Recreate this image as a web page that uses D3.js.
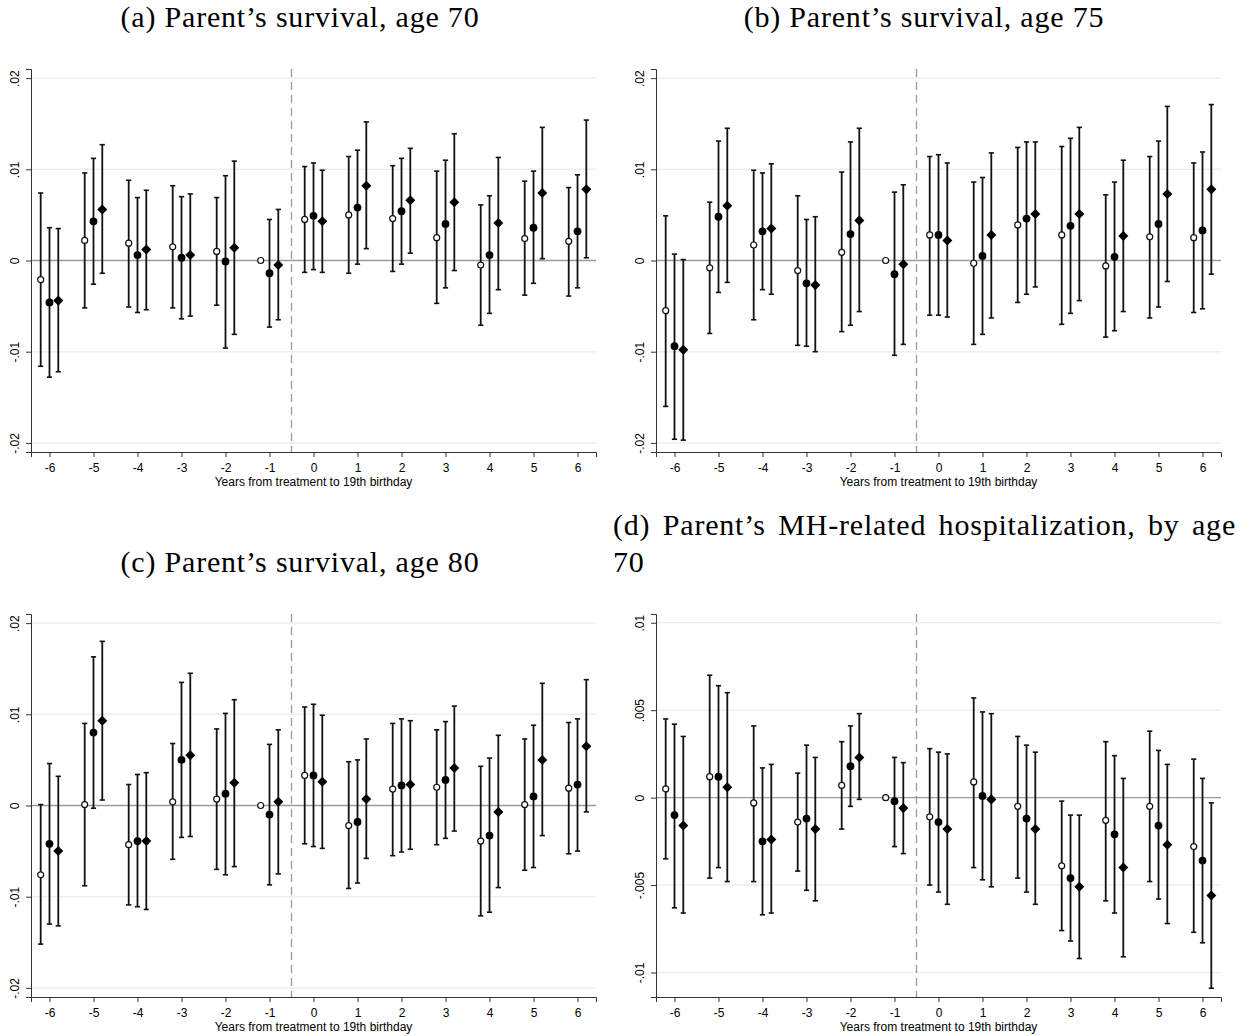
<!DOCTYPE html>
<html>
<head>
<meta charset="utf-8">
<script src="https://cdn.jsdelivr.net/npm/d3@7"></script>
<style>
  body { margin: 0; background: #fff; }
  svg { display: block; }
</style>
</head>
<body>
<svg id="chart"></svg>
<script>
// years relative to treatment, one group of three estimates per year
const years = [-6, -5, -4, -3, -2, -1, 0, 1, 2, 3, 4, 5, 6];
const xTickLabels = ["-6", "-5", "-4", "-3", "-2", "-1", "0", "1", "2", "3", "4", "5", "6"];

// each row: [estimate, ci low, ci high]; year -1 is the reference year
const surv70Hollow = [[-0.0021,-0.0116,0.0074],[0.0022,-0.0052,0.0096],[0.0019,-0.0051,0.0088],[0.0015,-0.0052,0.0082],[0.0010,-0.0049,0.0069],[0,null,null],
  [0.0045,-0.0013,0.0103],[0.0050,-0.0014,0.0114],[0.0046,-0.0012,0.0104],[0.0025,-0.0047,0.0098],[-0.0005,-0.0071,0.0061],[0.0024,-0.0038,0.0087],[0.0021,-0.0039,0.0080]];
const surv70Filled = [[-0.0046,-0.0128,0.0036],[0.0043,-0.0026,0.0112],[0.0006,-0.0057,0.0069],[0.0003,-0.0064,0.0070],[-0.0001,-0.0096,0.0093],[-0.0014,-0.0073,0.0045],
  [0.0049,-0.0010,0.0107],[0.0058,-0.0004,0.0121],[0.0054,-0.0004,0.0112],[0.0040,-0.0030,0.0110],[0.0006,-0.0058,0.0071],[0.0036,-0.0025,0.0098],[0.0032,-0.0030,0.0094]];
const surv70Diamond = [[-0.0044,-0.0122,0.0035],[0.0056,-0.0014,0.0127],[0.0012,-0.0054,0.0077],[0.0006,-0.0061,0.0073],[0.0014,-0.0081,0.0109],[-0.0005,-0.0065,0.0056],
  [0.0043,-0.0013,0.0099],[0.0082,0.0013,0.0152],[0.0066,0.0008,0.0123],[0.0064,-0.0011,0.0139],[0.0041,-0.0032,0.0113],[0.0074,0.0002,0.0146],[0.0078,0.0003,0.0154]];

const surv75Hollow = [[-0.0055,-0.0160,0.0049],[-0.0008,-0.0080,0.0064],[0.0017,-0.0065,0.0099],[-0.0011,-0.0093,0.0071],[0.0009,-0.0078,0.0097],[0,null,null],
  [0.0028,-0.0060,0.0114],[-0.0003,-0.0092,0.0086],[0.0039,-0.0046,0.0124],[0.0028,-0.0070,0.0125],[-0.0006,-0.0084,0.0072],[0.0026,-0.0063,0.0114],[0.0025,-0.0057,0.0107]];
const surv75Filled = [[-0.0094,-0.0196,0.0007],[0.0048,-0.0035,0.0131],[0.0032,-0.0032,0.0096],[-0.0025,-0.0094,0.0045],[0.0029,-0.0071,0.0130],[-0.0015,-0.0104,0.0075],
  [0.0028,-0.0060,0.0116],[0.0005,-0.0081,0.0091],[0.0046,-0.0037,0.0130],[0.0038,-0.0058,0.0134],[0.0004,-0.0077,0.0086],[0.0040,-0.0051,0.0131],[0.0033,-0.0053,0.0119]];
const surv75Diamond = [[-0.0098,-0.0197,0.0001],[0.0060,-0.0024,0.0145],[0.0035,-0.0037,0.0106],[-0.0027,-0.0100,0.0048],[0.0044,-0.0056,0.0145],[-0.0004,-0.0092,0.0083],
  [0.0022,-0.0062,0.0107],[0.0028,-0.0063,0.0118],[0.0051,-0.0029,0.0130],[0.0051,-0.0044,0.0146],[0.0027,-0.0056,0.0110],[0.0073,-0.0023,0.0169],[0.0078,-0.0015,0.0171]];

const surv80Hollow = [[-0.0076,-0.0152,0.0001],[0.0001,-0.0088,0.0090],[-0.0043,-0.0109,0.0023],[0.0004,-0.0059,0.0068],[0.0007,-0.0070,0.0084],[0,null,null],
  [0.0033,-0.0042,0.0108],[-0.0022,-0.0091,0.0048],[0.0018,-0.0055,0.0090],[0.0020,-0.0043,0.0083],[-0.0039,-0.0121,0.0043],[0.0001,-0.0071,0.0073],[0.0019,-0.0053,0.0091]];
const surv80Filled = [[-0.0042,-0.0130,0.0046],[0.0080,-0.0003,0.0163],[-0.0039,-0.0111,0.0034],[0.0050,-0.0035,0.0135],[0.0013,-0.0076,0.0101],[-0.0010,-0.0087,0.0067],
  [0.0033,-0.0045,0.0111],[-0.0018,-0.0085,0.0050],[0.0022,-0.0051,0.0095],[0.0028,-0.0036,0.0092],[-0.0033,-0.0117,0.0052],[0.0010,-0.0068,0.0088],[0.0023,-0.0050,0.0095]];
const surv80Diamond = [[-0.0050,-0.0132,0.0032],[0.0093,0.0006,0.0180],[-0.0039,-0.0114,0.0036],[0.0055,-0.0034,0.0145],[0.0025,-0.0067,0.0116],[0.0004,-0.0075,0.0083],
  [0.0026,-0.0047,0.0099],[0.0007,-0.0058,0.0073],[0.0023,-0.0048,0.0093],[0.0041,-0.0028,0.0109],[-0.0007,-0.0090,0.0077],[0.0050,-0.0033,0.0134],[0.0065,-0.0007,0.0138]];

const mhHollow = [[0.0005,-0.0035,0.0045],[0.0012,-0.0046,0.0070],[-0.0003,-0.0048,0.0041],[-0.0014,-0.0042,0.0014],[0.0007,-0.0018,0.0032],[0,null,null],
  [-0.0011,-0.0050,0.0028],[0.0009,-0.0040,0.0057],[-0.0005,-0.0046,0.0035],[-0.0039,-0.0076,-0.0002],[-0.0013,-0.0059,0.0032],[-0.0005,-0.0048,0.0038],[-0.0028,-0.0077,0.0022]];
const mhFilled = [[-0.0010,-0.0063,0.0042],[0.0012,-0.0040,0.0064],[-0.0025,-0.0067,0.0017],[-0.0012,-0.0053,0.0030],[0.0018,-0.0005,0.0041],[-0.0002,-0.0028,0.0023],
  [-0.0014,-0.0054,0.0026],[0.0001,-0.0047,0.0049],[-0.0012,-0.0054,0.0030],[-0.0046,-0.0082,-0.0010],[-0.0021,-0.0066,0.0024],[-0.0016,-0.0058,0.0027],[-0.0036,-0.0083,0.0011]];
const mhDiamond = [[-0.0016,-0.0066,0.0035],[0.0006,-0.0048,0.0060],[-0.0024,-0.0066,0.0019],[-0.0018,-0.0059,0.0023],[0.0023,-0.0001,0.0048],[-0.0006,-0.0032,0.0020],
  [-0.0018,-0.0061,0.0025],[-0.0001,-0.0051,0.0048],[-0.0018,-0.0061,0.0026],[-0.0051,-0.0092,-0.0010],[-0.0040,-0.0091,0.0011],[-0.0027,-0.0072,0.0019],[-0.0056,-0.0109,-0.0003]];

const survTicks = [-0.02, -0.01, 0, 0.01, 0.02];
const survTickLabels = ["-.02", "-.01", "0", ".01", ".02"];
const mhTicks = [-0.01, -0.005, 0, 0.005, 0.01];
const mhTickLabels = ["-.01", "-.005", "0", ".005", ".01"];

const xTitle = "Years from treatment to 19th birthday";
const serif = "'Liberation Serif', 'DejaVu Serif', serif";
const sans = "'Liberation Sans', Arial, sans-serif";

class CoefPlot {

  constructor(_config, _series) {
    this.config = {
      parent: _config.parent,
      left: _config.left,
      top: _config.top,
      width: _config.width || 565,
      height: _config.height || 383,
      yDomain: _config.yDomain,
      yTicks: _config.yTicks,
      yTickLabels: _config.yTickLabels
    };
    this.series = _series;
    this.initVis();
  }

  initVis() {
    let vis = this;

    vis.g = vis.config.parent.append('g')
      .attr('transform', `translate(${vis.config.left},${vis.config.top})`);

    vis.xScale = d3.scaleLinear()
      .domain([-6.42, 6.42])
      .range([0, vis.config.width]);

    vis.yScale = d3.scaleLinear()
      .domain(vis.config.yDomain)
      .range([vis.config.height, 0]);

    // light gridlines, zero line darker
    vis.g.selectAll('.grid')
      .data(vis.config.yTicks.filter(d => d !== 0))
      .enter().append('line')
      .attr('x1', 0).attr('x2', vis.config.width)
      .attr('y1', d => vis.yScale(d)).attr('y2', d => vis.yScale(d))
      .attr('stroke', '#e8f0f1').attr('stroke-width', 1.5);

    vis.g.append('line')
      .attr('x1', 0).attr('x2', vis.config.width)
      .attr('y1', vis.yScale(0)).attr('y2', vis.yScale(0))
      .attr('stroke', '#9a9a9a').attr('stroke-width', 1.3);

    // treatment cutoff between -1 and 0
    vis.g.append('line')
      .attr('x1', vis.xScale(-0.5)).attr('x2', vis.xScale(-0.5))
      .attr('y1', 0).attr('y2', vis.config.height)
      .attr('stroke', '#9a9a9a').attr('stroke-width', 1.3)
      .attr('stroke-dasharray', '8,5');

    // axes
    let yAxis = d3.axisLeft(vis.yScale)
      .tickValues(vis.config.yTicks)
      .tickFormat((d, i) => vis.config.yTickLabels[i])
      .tickSizeOuter(0).tickSize(5);
    vis.yAxisG = vis.g.append('g').call(yAxis);
    vis.yAxisG.selectAll('text')
      .attr('transform', 'rotate(-90)')
      .attr('x', 0).attr('y', -12)
      .attr('dy', 0)
      .style('text-anchor', 'middle');

    let xAxis = d3.axisBottom(vis.xScale)
      .tickValues(years)
      .tickFormat((d, i) => xTickLabels[i])
      .tickSizeOuter(0).tickSize(5);
    vis.xAxisG = vis.g.append('g')
      .attr('transform', `translate(0,${vis.config.height})`)
      .call(xAxis);
    vis.xAxisG.selectAll('text').attr('y', 11);

    [vis.yAxisG, vis.xAxisG].forEach(ax => {
      ax.select('.domain').attr('stroke', '#333');
      ax.selectAll('.tick line').attr('stroke', '#333');
      ax.selectAll('text').attr('fill', '#000')
        .style('font-family', sans).style('font-size', '12px');
    });

    vis.g.append('text')
      .attr('x', vis.config.width / 2)
      .attr('y', vis.config.height + 34)
      .attr('text-anchor', 'middle')
      .style('font-family', sans).style('font-size', '12px')
      .text(xTitle);

    vis.renderVis();
  }

  renderVis() {
    let vis = this;

    vis.series.forEach(s => {
      let rows = s.values.map((v, i) => ({ year: years[i], est: v[0], lo: v[1], hi: v[2] }));
      let xPos = d => vis.xScale(d.year + s.offset);
      let sg = vis.g.append('g');

      let bars = rows.filter(d => d.lo !== null);
      sg.selectAll('.bar').data(bars).enter().append('line')
        .attr('x1', xPos).attr('x2', xPos)
        .attr('y1', d => vis.yScale(d.lo)).attr('y2', d => vis.yScale(d.hi))
        .attr('stroke', '#111').attr('stroke-width', 1.8);

      ['lo', 'hi'].forEach(k => {
        sg.selectAll('.cap-' + k).data(bars).enter().append('line')
          .attr('x1', d => xPos(d) - 2.6).attr('x2', d => xPos(d) + 2.6)
          .attr('y1', d => vis.yScale(d[k])).attr('y2', d => vis.yScale(d[k]))
          .attr('stroke', '#111').attr('stroke-width', 1.6);
      });

      if (s.shape === 'hollow') {
        sg.selectAll('.pt').data(rows).enter().append('circle')
          .attr('cx', xPos).attr('cy', d => vis.yScale(d.est))
          .attr('r', 3)
          .attr('fill', '#fff').attr('stroke', '#111').attr('stroke-width', 1.2);
      } else if (s.shape === 'filled') {
        sg.selectAll('.pt').data(rows).enter().append('circle')
          .attr('cx', xPos).attr('cy', d => vis.yScale(d.est))
          .attr('r', 3.9)
          .attr('fill', '#000');
      } else {
        sg.selectAll('.pt').data(rows).enter().append('path')
          .attr('d', d3.symbol(d3.symbolDiamond2, 64))
          .attr('transform', d => `translate(${xPos(d)},${vis.yScale(d.est)})`)
          .attr('fill', '#000');
      }
    });
  }
}

const svg = d3.select('#chart').attr('width', 1247).attr('height', 1036);

function specs(hollow, filled, diamond) {
  return [
    { values: hollow, offset: -0.2, shape: 'hollow' },
    { values: filled, offset: 0, shape: 'filled' },
    { values: diamond, offset: 0.2, shape: 'diamond' }
  ];
}

new CoefPlot({ parent: svg, left: 31, top: 69, yDomain: [-0.021, 0.021], yTicks: survTicks, yTickLabels: survTickLabels },
  specs(surv70Hollow, surv70Filled, surv70Diamond));
new CoefPlot({ parent: svg, left: 656, top: 69, yDomain: [-0.021, 0.021], yTicks: survTicks, yTickLabels: survTickLabels },
  specs(surv75Hollow, surv75Filled, surv75Diamond));
new CoefPlot({ parent: svg, left: 31, top: 614, yDomain: [-0.021, 0.021], yTicks: survTicks, yTickLabels: survTickLabels },
  specs(surv80Hollow, surv80Filled, surv80Diamond));
new CoefPlot({ parent: svg, left: 656, top: 614, yDomain: [-0.0114, 0.0105], yTicks: mhTicks, yTickLabels: mhTickLabels },
  specs(mhHollow, mhFilled, mhDiamond));

// subfigure captions
const capSize = '30px', capSpacing = '0.8px';
function caption(x, y, txt) {
  svg.append('text')
    .attr('x', x).attr('y', y)
    .attr('text-anchor', 'middle')
    .style('font-family', serif).style('font-size', capSize)
    .style('letter-spacing', capSpacing)
    .text(txt);
}
caption(300, 27, '(a) Parent’s survival, age 70');
caption(924, 27, '(b) Parent’s survival, age 75');
caption(300, 572, '(c) Parent’s survival, age 80');

// caption (d) wraps, first line justified across the column
const dWords = ['(d)', 'Parent’s', 'MH-related', 'hospitalization,', 'by', 'age'];
const dLeft = 613, dRight = 1236;
let dNodes = dWords.map(w => svg.append('text')
  .attr('y', 535)
  .style('font-family', serif).style('font-size', capSize)
  .style('letter-spacing', capSpacing)
  .text(w));
let wordW = dNodes.map(n => n.node().getComputedTextLength());
let gap = (dRight - dLeft - d3.sum(wordW)) / (dWords.length - 1);
let cx = dLeft;
dNodes.forEach((n, i) => { n.attr('x', cx); cx += wordW[i] + gap; });
svg.append('text')
  .attr('x', dLeft).attr('y', 572)
  .style('font-family', serif).style('font-size', capSize)
  .style('letter-spacing', capSpacing)
  .text('70');
</script>
</body>
</html>
